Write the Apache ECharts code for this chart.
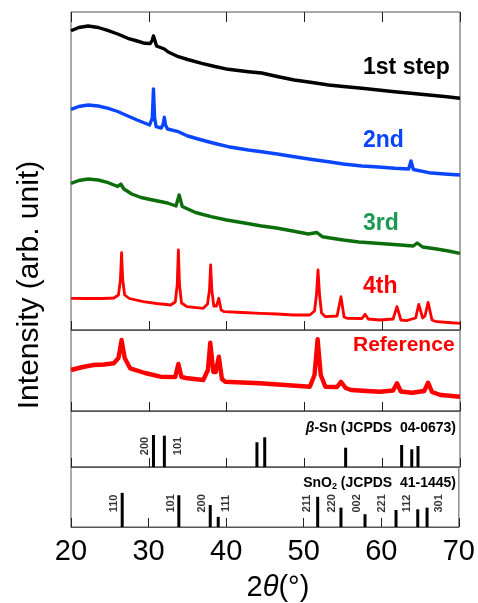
<!DOCTYPE html>
<html>
<head>
<meta charset="utf-8">
<script src="https://cdn.jsdelivr.net/npm/echarts@6/dist/echarts.min.js"></script>
<style>
  html, body { margin: 0; padding: 0; background: #fff; }
  #chart { width: 478px; height: 603px; }
</style>
</head>
<body>
<div id="chart"></div>
<script>
// [2theta, intensity], offsets included (arb. unit)
var step1 = [[20,299.3],[21,302.5],[22.2,304],[23.5,302.5],[24.8,299.3],[26,296],[27.3,291.7],[28.5,289],[29.5,286.7],[30.2,286.5],[30.45,290],[30.6,294],[30.8,289],[31,284],[31.5,282.5],[32,281],[32.5,278],[33.8,273.3],[35,270.5],[36.8,266.7],[38.5,263.5],[40.2,260.7],[42.8,258.3],[44.5,257],[46.5,253.5],[48.7,250],[51,247.5],[53.1,245],[55,243.5],[57.4,241.7],[59.5,240],[61.6,238.3],[64,236.5],[66,235],[68,233.5],[70,231.7]];
var step2 = [[20,220.7],[21,223.5],[22.2,225],[23.5,224],[24.8,221.7],[26,218.5],[27.3,214],[28.5,210],[30.1,205],[30.45,212],[30.6,241],[30.75,212],[30.95,203.3],[31.6,202],[31.85,206],[32,212.7],[32.15,205],[32.4,201],[33.8,198.3],[35,194],[36.8,190],[38.5,186.5],[40.2,183.3],[42.8,180],[44.5,178.3],[46.5,176],[48.7,173.3],[51,170.5],[53.1,168.3],[55,166],[57.4,164],[59.5,163],[61.6,161.7],[63.4,161],[63.7,169],[64,160.5],[66,157.3],[68,156],[70,155]];
var step3 = [[20,146.7],[21,149.5],[22.2,151],[23.5,150],[24.8,147.3],[26,143.5],[26.4,146],[26.8,141],[27.8,136],[29,132.5],[30.5,130],[32.4,127],[33.5,124],[33.9,135],[34.3,123.5],[34.5,122],[36,117.5],[38,113.3],[40,110],[42.3,107],[44.5,104],[46.4,102],[48.5,99],[50.5,96],[51.6,97.5],[52.3,93.3],[55,90],[57,88],[59.3,86.7],[61.5,85.5],[64,84],[64.5,87],[65.2,83],[67,81],[68.5,79],[70,76.7]];
var step4 = [[20,31.7],[22,31.5],[24,31.5],[25.5,32],[26.1,35],[26.35,50],[26.5,77.3],[26.65,50],[26.9,35],[27.5,31.5],[29.3,28.3],[31,26.5],[32.8,25],[33.4,28],[33.65,45],[33.8,80],[33.95,45],[34.2,27],[34.9,23.3],[37,21.7],[37.55,26],[37.8,40],[37.95,65],[38.1,40],[38.35,24],[38.7,24],[39,31.7],[39.3,20],[39.7,18.3],[42,17.5],[44.3,16.7],[46.5,16],[48.6,15],[50.7,15],[51.3,19],[51.55,35],[51.75,60],[51.95,35],[52.2,17],[52.7,13.3],[54.2,14],[54.7,33.3],[55.1,13],[55.5,11.7],[57.4,11.5],[57.8,15.7],[58.2,11],[59.7,10],[61.4,11],[61.9,23.3],[62.4,10],[63.1,9.3],[64.3,12],[64.7,25.7],[65.2,12],[65.5,14],[65.9,27.7],[66.4,10],[67,8.3],[68.5,7.5],[70,6.7]];
var reference = [[20,41],[21.5,44],[22.9,46],[24.3,46.5],[25.5,47.7],[26.1,53],[26.5,71],[26.9,53],[27.6,42.7],[29.5,38],[31.5,34.3],[33.4,34],[33.8,47],[34.2,34],[35,32.7],[37,31],[37.6,41],[37.9,68.3],[38.3,39],[38.6,39],[39,54.3],[39.4,32],[39.8,29.3],[42,28.5],[44.3,27.7],[47.5,26],[50.7,24.3],[51.3,36],[51.7,71.7],[52.1,36],[52.7,24.3],[54.2,24],[54.7,29.3],[55.3,23],[56,21],[58,20],[59.7,19.3],[61.4,20.5],[61.9,27.7],[62.4,19.5],[63.8,18.3],[65.4,20],[65.9,28.3],[66.4,19],[67.5,16],[69,15],[70,14.3]];

// JCPDS stick patterns
var snPos = [30.6, 32.0, 43.9, 44.9, 55.3, 62.5, 63.8, 64.6];
var snInt = [32, 31.3, 24.7, 29.7, 19.3, 22, 17.7, 21];
var snHkl = ["200", "101"];
var snHklAt = [29.45, 33.7];

var oxPos = [26.6, 33.9, 37.95, 38.98, 51.8, 54.8, 57.9, 61.9, 64.7, 65.9];
var oxInt = [34.7, 32.3, 22.3, 10.3, 30.7, 19.7, 13, 17.3, 18, 19.7];
var oxHkl = ["110", "101", "200", "111", "211", "220", "002", "221", "112", "301"];
var oxHklAt = [25.5, 32.85, 36.9, 40.0, 50.45, 53.6, 56.85, 60.05, 63.35, 67.4];

var xTicks = [20, 30, 40, 50, 60, 70];

var FONT = "Liberation Sans, Arial, Helvetica, sans-serif";
var AXIS = "#555";

var myChart = echarts.init(document.getElementById("chart"));

// panel boxes in px
var panels = [
  { top: 12, height: 318 },
  { top: 330, height: 81 },
  { top: 411, height: 56 },
  { top: 467, height: 61 },
];

var grids = panels.map(function (p) {
  return {
    left: 71, right: 18, top: p.top, height: p.height,
    show: true, borderColor: AXIS, borderWidth: 1,
  };
});

var xAxes = panels.map(function (p, i) {
  return {
    type: "value", gridIndex: i, min: xTicks[0], max: xTicks[xTicks.length - 1], interval: 10,
    axisLine: { show: true, lineStyle: { color: AXIS, width: 1 } },
    axisTick: { show: true, inside: true, length: 9, lineStyle: { color: "#222", width: 1 } },
    axisLabel: {
      show: i === 3, color: "#000", fontSize: 29, fontFamily: FONT, margin: 10,
    },
    splitLine: { show: false },
    name: i === 3 ? "2{i|θ}(°)" : "",
    nameLocation: "middle",
    nameGap: 46,
    nameTextStyle: {
      color: "#000", fontSize: 29, fontFamily: FONT, padding: [0, 0, 0, 26],
      rich: { i: { fontStyle: "italic", fontSize: 29, fontFamily: FONT, color: "#000" } },
    },
  };
});
// top ticks of the upper panel
xAxes.push({
  type: "value", gridIndex: 0, position: "top", min: 20, max: 70, interval: 10,
  axisLine: { show: false },
  axisTick: { show: true, inside: true, length: 10, lineStyle: { color: "#222" } },
  axisLabel: { show: false },
  splitLine: { show: false },
});

var yAxes = panels.map(function (p, i) {
  return {
    type: "value", gridIndex: i, min: 0, max: p.height,
    axisLine: { show: false }, axisTick: { show: false },
    axisLabel: { show: false }, splitLine: { show: false },
  };
});

function pattern(data, color, width, idx) {
  return {
    type: "line", xAxisIndex: idx, yAxisIndex: idx, data: data,
    showSymbol: false, symbol: "none", silent: true,
    lineStyle: { color: color, width: width, join: "round" },
  };
}

function sticks(pos, inten, idx) {
  return {
    type: "bar", xAxisIndex: idx, yAxisIndex: idx, barWidth: 3,
    itemStyle: { color: "#000" }, silent: true,
    data: pos.map(function (x, k) { return [x, inten[k]]; }),
  };
}

function hklLabels(names, at, yMid, idx) {
  return {
    type: "scatter", xAxisIndex: idx, yAxisIndex: idx, symbolSize: 0, silent: true,
    data: names.map(function (n, k) { return [at[k], yMid, n]; }),
    label: {
      show: true, position: "inside", rotate: 90,
      formatter: function (p) { return p.data[2]; },
      color: "#000", fontSize: 11, fontWeight: "bold", fontFamily: FONT,
    },
  };
}

function tag(text, x, y, color, size, align) {
  return {
    type: "text", x: x, y: y, silent: true,
    style: {
      text: text, fill: color, fontSize: size, fontWeight: "bold", fontFamily: FONT,
      textAlign: align || "left", align: align || "left",
      textVerticalAlign: "middle", verticalAlign: "middle",
    },
  };
}

var option = {
  animation: false,
  backgroundColor: "#fff",
  grid: grids,
  xAxis: xAxes,
  yAxis: yAxes,
  series: [
    pattern(step1, "#000000", 3.4, 0),
    pattern(step2, "#0a46ff", 3.4, 0),
    pattern(step3, "#0b6e0b", 3.4, 0),
    pattern(step4, "#ff0000", 2.8, 0),
    pattern(reference, "#ff0000", 4.4, 1),
    sticks(snPos, snInt, 2),
    sticks(oxPos, oxInt, 3),
    hklLabels(snHkl, snHklAt, 21, 2),
    hklLabels(oxHkl, oxHklAt, 24, 3),
  ],
  graphic: [
    tag("1st step", 363, 68, "#000", 23),
    tag("2nd", 363, 141, "#0a46ff", 23),
    tag("3rd", 363, 224, "#1a9a50", 23),
    tag("4th", 363, 287, "#ff0000", 23),
    tag("Reference", 353, 345, "#ff0000", 21),
    {
      type: "text", x: 456, y: 428, silent: true,
      style: {
        text: "{i|β}-Sn (JCPDS  04-0673)",
        fill: "#000", fontSize: 14, fontWeight: "bold", fontFamily: FONT,
        textAlign: "right", align: "right", textVerticalAlign: "middle", verticalAlign: "middle",
        rich: { i: { fontStyle: "italic", fontWeight: "bold", fontSize: 14, fontFamily: FONT, fill: "#000" } },
      },
    },
    {
      type: "text", x: 456, y: 483, silent: true,
      style: {
        text: "SnO{s|2} (JCPDS  41-1445)",
        fill: "#000", fontSize: 14, fontWeight: "bold", fontFamily: FONT,
        textAlign: "right", align: "right", textVerticalAlign: "middle", verticalAlign: "middle",
        rich: { s: { fontSize: 9, fontWeight: "bold", fontFamily: FONT, fill: "#000", verticalAlign: "bottom", padding: [8, 0, 0, 0] } },
      },
    },
    {
      type: "text", x: 30, y: 285, rotation: Math.PI / 2, silent: true,
      style: {
        text: "Intensity (arb. unit)", fill: "#000", fontSize: 30, fontFamily: FONT,
        textAlign: "center", align: "center", textVerticalAlign: "middle", verticalAlign: "middle",
      },
    },
  ],
};

myChart.setOption(option);
</script>
</body>
</html>
